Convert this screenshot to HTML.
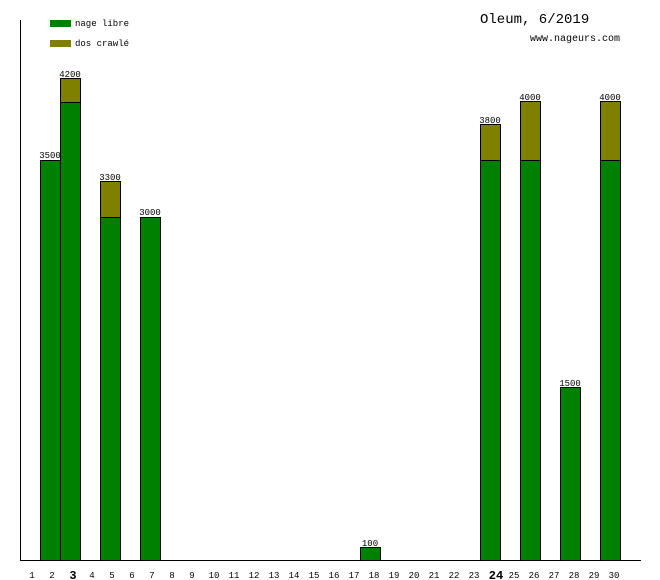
<!DOCTYPE html>
<html><head><meta charset="utf-8"><style>
html,body{margin:0;padding:0;background:#fff;}
svg{display:block;}
text{font-family:"Liberation Mono","DejaVu Sans Mono",monospace;fill:#000;}
</style></head><body>
<svg width="660" height="580" viewBox="0 0 660 580" xmlns="http://www.w3.org/2000/svg">
<rect width="660" height="580" fill="#fff"/>
<!-- legend -->
<rect x="50" y="20" width="21" height="7" fill="#008000"/>
<text x="75" y="26" font-size="9">nage libre</text>
<rect x="50" y="40" width="21" height="7" fill="#808000"/>
<text x="75" y="46" font-size="9">dos crawlé</text>
<!-- title -->
<text x="480" y="23" font-size="14">Oleum, 6/2019</text>
<text x="530" y="41" font-size="10">www.nageurs.com</text>
<!-- axes -->
<line x1="20.5" y1="20" x2="20.5" y2="561" stroke="#000"/>
<line x1="20" y1="560.5" x2="641" y2="560.5" stroke="#000"/>
<g stroke="#000" stroke-width="1">
<rect x="40.5" y="160.5" width="20" height="400" fill="#008000"/>
<rect x="60.5" y="102.5" width="20" height="458" fill="#008000"/>
<rect x="60.5" y="78.5" width="20" height="24" fill="#808000"/>
<rect x="100.5" y="217.5" width="20" height="343" fill="#008000"/>
<rect x="100.5" y="181.5" width="20" height="36" fill="#808000"/>
<rect x="140.5" y="217.5" width="20" height="343" fill="#008000"/>
<rect x="360.5" y="547.5" width="20" height="13" fill="#008000"/>
<rect x="480.5" y="160.5" width="20" height="400" fill="#008000"/>
<rect x="480.5" y="124.5" width="20" height="36" fill="#808000"/>
<rect x="520.5" y="160.5" width="20" height="400" fill="#008000"/>
<rect x="520.5" y="101.5" width="20" height="59" fill="#808000"/>
<rect x="560.5" y="387.5" width="20" height="173" fill="#008000"/>
<rect x="600.5" y="160.5" width="20" height="400" fill="#008000"/>
<rect x="600.5" y="101.5" width="20" height="59" fill="#808000"/>
</g>
<g font-size="9" text-anchor="middle">
<text x="50" y="158">3500</text>
<text x="70" y="77">4200</text>
<text x="110" y="180">3300</text>
<text x="150" y="215">3000</text>
<text x="370" y="546">100</text>
<text x="490" y="123">3800</text>
<text x="530" y="100">4000</text>
<text x="570" y="386">1500</text>
<text x="610" y="100">4000</text>
</g>
<g font-size="9" text-anchor="middle">
<text x="32" y="578">1</text>
<text x="52" y="578">2</text>
<text x="73" y="579" font-size="12" font-weight="bold">3</text>
<text x="92" y="578">4</text>
<text x="112" y="578">5</text>
<text x="132" y="578">6</text>
<text x="152" y="578">7</text>
<text x="172" y="578">8</text>
<text x="192" y="578">9</text>
<text x="214" y="578">10</text>
<text x="234" y="578">11</text>
<text x="254" y="578">12</text>
<text x="274" y="578">13</text>
<text x="294" y="578">14</text>
<text x="314" y="578">15</text>
<text x="334" y="578">16</text>
<text x="354" y="578">17</text>
<text x="374" y="578">18</text>
<text x="394" y="578">19</text>
<text x="414" y="578">20</text>
<text x="434" y="578">21</text>
<text x="454" y="578">22</text>
<text x="474" y="578">23</text>
<text x="496" y="579" font-size="12" font-weight="bold">24</text>
<text x="514" y="578">25</text>
<text x="534" y="578">26</text>
<text x="554" y="578">27</text>
<text x="574" y="578">28</text>
<text x="594" y="578">29</text>
<text x="614" y="578">30</text>
</g>
</svg>
</body></html>
